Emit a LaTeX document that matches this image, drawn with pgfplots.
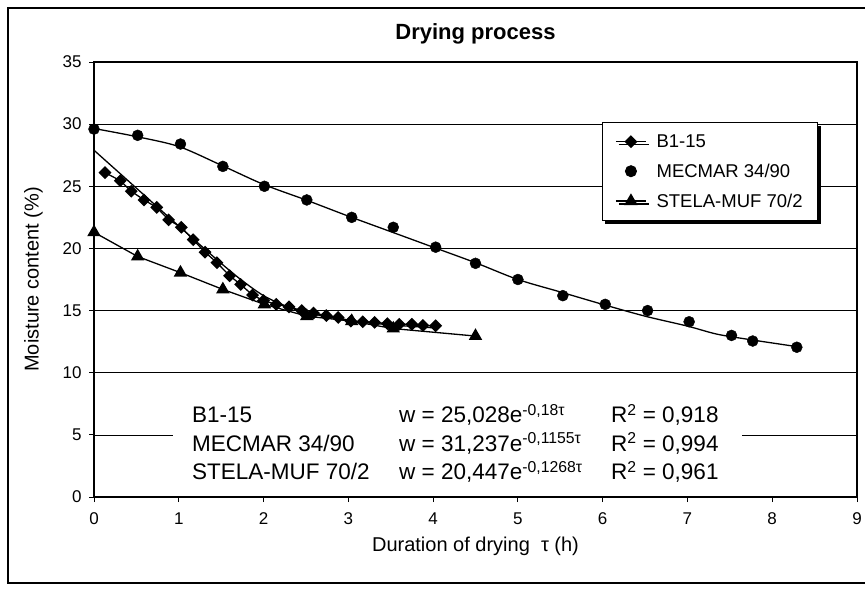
\documentclass[border=0pt]{standalone}
\usepackage{fontspec}
\setmainfont{Liberation Sans}
\usepackage{pgfplots}
\pgfplotsset{compat=1.18}
\usetikzlibrary{shadows}

\pgfplotstableread{
x y
0.13 26.1
0.31 25.45
0.44 24.6
0.59 23.9
0.74 23.3
0.88 22.3
1.03 21.7
1.17 20.7
1.31 19.7
1.45 18.85
1.60 17.8
1.73 17.1
1.87 16.25
2.00 15.8
2.15 15.5
2.30 15.3
2.45 15.0
2.59 14.8
2.74 14.6
2.88 14.45
3.03 14.15
3.17 14.1
3.31 14.05
3.46 13.95
3.60 13.9
3.75 13.9
3.88 13.8
4.03 13.78
}\bone

\pgfplotstableread{
x y
0.00 29.6
0.515 29.1
1.02 28.4
1.52 26.6
2.01 25.0
2.51 23.9
3.04 22.5
3.53 21.7
4.03 20.1
4.50 18.8
5.00 17.5
5.53 16.2
6.03 15.5
6.53 15.0
7.02 14.1
7.52 13.0
7.77 12.55
8.29 12.05
}\mecmar

\pgfplotstableread{
x y
0.00 21.3
0.515 19.35
1.02 18.05
1.52 16.7
2.01 15.5
2.51 14.55
3.04 14.15
3.53 13.55
4.50 12.95
}\stela

\pgfplotstableread{
x y
0.00 27.9
0.5 24.85
1.0 21.8
1.5 18.8
1.75 17.4
2.0 16.2
2.25 15.4
2.5 14.85
3.0 14.2
3.5 13.85
4.03 13.6
}\bonetrend

\pgfplotstableread{
x y
0.00 29.65
0.5 29.0
1.0 28.2
1.5 26.7
2.0 25.15
2.5 23.9
3.0 22.6
3.5 21.35
4.0 20.1
4.5 18.85
5.0 17.5
5.5 16.5
6.0 15.5
6.5 14.55
7.0 13.75
7.35 13.1
7.75 12.65
8.29 12.1
}\mecmartrend

\newcommand{\eqfont}{\fontsize{22.5}{26}\selectfont}

\begin{document}
\begin{tikzpicture}
\begin{axis}[
  name=ax, at={(0,0)}, anchor=south west,
  scale only axis, width=763pt, height=435pt,
  xmin=0, xmax=9, ymin=0, ymax=35,
  xtick={0,...,9}, ytick={0,5,...,35},
  tick pos=left, tick align=outside, major tick length=5pt,
  tick style={black, line width=0.8pt},
  axis line style={black, line width=1.2pt},
  ymajorgrids, grid style={black, line width=0.7pt},
  /pgf/number format/assume math mode=true,
  tick label style={font=\fontsize{17}{19}\selectfont},
  xticklabel style={yshift=-7pt},
  yticklabel style={xshift=-4pt},
  title={Drying process},
  every axis title/.style={font=\bfseries\fontsize{22}{26}\selectfont, at={(axis description cs:0.5,1.064)}, anchor=center},
  xlabel={Duration of drying\ \ τ (h)},
  ylabel={Moisture content (\%)},
  xlabel style={font=\fontsize{20}{24}\selectfont, at={(axis description cs:0.5,-0.1126)}, anchor=center},
  every axis y label/.style={font=\fontsize{20}{24}\selectfont, at={(axis description cs:-0.0793,0.5)}, anchor=center, rotate=90},
  legend image code/.code={\draw[mark repeat=2,mark phase=2,#1] plot coordinates {(0pt,0pt) (15pt,0pt) (30pt,0pt)};},
  legend style={at={(axis description cs:0.949,0.862)}, anchor=north east, draw=black, line width=1pt, fill=white,
    font=\fontsize{18.5}{21}\selectfont, inner xsep=13pt, inner ysep=10pt, row sep=11pt,
    cells={anchor=west},
    /tikz/every odd column/.append style={column sep=8pt},
    drop shadow={shadow xshift=3pt, shadow yshift=-3pt, fill=black, opacity=1}},
]
\addplot[black, line width=1.3pt, mark=square*, mark size=3.9pt, mark options={rotate=45, solid}] table {\bone};
\addlegendentry{B1-15}
\addplot[black, only marks, mark=*, mark size=5.5pt] table {\mecmar};
\addlegendentry{MECMAR 34/90}
\addplot[black, line width=1.3pt, mark=triangle*, mark size=6.5pt, mark options={solid}] table {\stela};
\addlegendentry{STELA-MUF 70/2}
\addplot[black, line width=1.3pt, smooth, tension=0.5, forget plot] table {\bonetrend};
\addplot[black, line width=1.3pt, smooth, tension=0.5, forget plot] table {\mecmartrend};

\fill[white] (axis cs:0.93,0.6) rectangle (axis cs:7.64,8.6);
\node[anchor=base west, font=\eqfont, inner sep=0pt] at (axis cs:1.156,5.99) {B1-15};
\node[anchor=base west, font=\eqfont, inner sep=0pt] at (axis cs:1.156,3.66) {MECMAR 34/90};
\node[anchor=base west, font=\eqfont, inner sep=0pt] at (axis cs:1.156,1.37) {STELA-MUF 70/2};
\node[anchor=base west, font=\eqfont, inner sep=0pt] at (axis cs:3.597,5.99) {w = 25,028e\textsuperscript{-0,18τ}};
\node[anchor=base west, font=\eqfont, inner sep=0pt] at (axis cs:3.597,3.66) {w = 31,237e\textsuperscript{-0,1155τ}};
\node[anchor=base west, font=\eqfont, inner sep=0pt] at (axis cs:3.597,1.37) {w = 20,447e\textsuperscript{-0,1268τ}};
\node[anchor=base west, font=\eqfont, inner sep=0pt] at (axis cs:6.097,5.99) {R\textsuperscript{2} = 0,918};
\node[anchor=base west, font=\eqfont, inner sep=0pt] at (axis cs:6.097,3.66) {R\textsuperscript{2} = 0,994};
\node[anchor=base west, font=\eqfont, inner sep=0pt] at (axis cs:6.097,1.37) {R\textsuperscript{2} = 0,961};
\end{axis}
\pgfresetboundingbox
\path[use as bounding box] ([xshift=-94pt,yshift=-91pt]ax.south west) rectangle ([xshift=8pt,yshift=62pt]ax.north east);
\draw[line width=1.2pt] ([xshift=-86pt,yshift=-86pt]ax.south west) rectangle ([xshift=15pt,yshift=54pt]ax.north east);
\end{tikzpicture}
\end{document}
